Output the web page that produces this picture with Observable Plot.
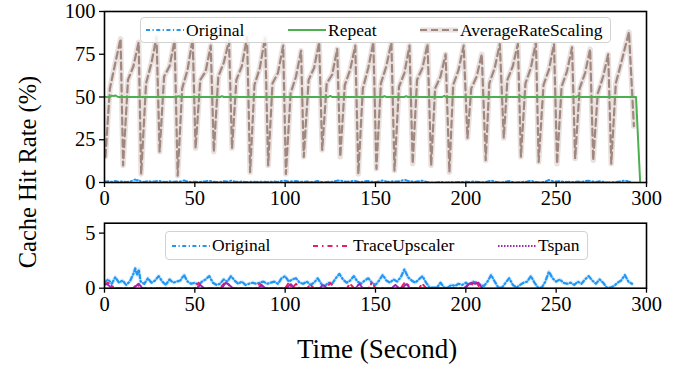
<!DOCTYPE html>
<html>
<head>
<meta charset="utf-8">
<script src="https://cdn.jsdelivr.net/npm/d3@7"></script>
<script src="https://cdn.jsdelivr.net/npm/@observablehq/plot@0.6"></script>
<style>
  html, body { margin: 0; padding: 0; background: #fff; }
  #wrap { position: relative; width: 673px; height: 366px; background: #fff; font-family: "Liberation Serif", "DejaVu Serif", serif; color: #000; overflow: hidden; }
  .abs { position: absolute; }
  .legend { position: absolute; border: 1px solid #d2d2d2; border-radius: 4px; background: rgba(255,255,255,0.85); box-sizing: border-box; }
  .item { position: absolute; top: 0; height: 100%; display: flex; align-items: center; font-size: 17.5px; white-space: nowrap; }
  .item svg { display: block; margin-right: 2px; }
</style>
</head>
<body>
<div id="wrap"></div>
<script>
// ---------------- data ----------------
const xTicks = [0, 50, 100, 150, 200, 250, 300];
const yTicksTop = [0, 25, 50, 75, 100];
const yTicksBottom = [0, 5];

// AverageRateScaling (time s, hit rate %)
const averageRateScaling = [
  [0.5,15],[3,55],[6,70],[8.9,84],
  [10.3,10],[13,60],[16,68],[18.9,82],
  [20.3,5],[23,58],[26,70],[28.8,85],
  [30.5,18],[33,62],[36,68],[38.8,83],
  [40.5,4],[43,55],[46,66],[48.8,84],
  [50.4,20],[53,60],[56,65],[58.8,80],
  [60.5,18],[63,62],[66,70],[68.9,83],
  [70.6,20],[73,60],[76,68],[78.9,85],
  [80.6,6],[83,57],[86,67],[88.9,85],
  [90.6,10],[93,58],[96,64],[98.9,80],
  [100.4,5],[103,52],[106,62],[108.8,77],
  [110.3,15],[113,60],[116,67],[118.8,82],
  [120.5,19],[123,58],[126,63],[128.8,78],
  [130.5,15],[133,57],[136,66],[138.8,80],
  [140.5,5],[143,55],[146,67],[148.8,82],
  [150.5,8],[153,58],[156,68],[158.8,82],
  [160.5,7],[163,56],[166,64],[168.8,80],
  [170.6,11],[173,60],[176,67],[178.8,81],
  [180.8,10],[183,55],[186,62],[188.8,75],
  [190.9,6],[193,57],[196,66],[198.8,80],
  [200.9,26],[203,55],[206,62],[208.8,75],
  [211,13],[213,58],[216,67],[218.8,81],
  [221,26],[223,60],[226,68],[228.8,81],
  [230.5,15],[233,58],[236,67],[238.8,82],
  [240.3,12],[243,57],[246,66],[248.8,81],
  [250.5,11],[253,56],[256,65],[258.8,79],
  [260.5,14],[263,55],[266,64],[268.8,78],
  [270.5,13],[273,52],[276,62],[278.8,75],
  [280.5,11],[283,58],[286,70],[290.3,88],
  [293,33]
];

// Repeat (time s, hit rate %)
const repeat = [
  [0,50],[3,50],[4,50.8],[5,50.6],[6,50.9],[7.5,50],[40,50],[41,50.5],[42,50],
  [64,50],[65,50.5],[66,50],[124,50],[125,50.6],[126,50],[154,50],[155,50.5],[156,50],
  [166,50],[167,50.5],[168,50],[187,50],[188,50.6],[189,50],[229,50],[230,50.5],[231,50],
  [261,50],[262,50.5],[263,50],[294.2,50],[296.5,0]
];

// Original (time s, hit rate %)
const original = [
  [0,0.5],[2,0.8],[4,0.4],[6,1.0],[8,0.5],[10,0.7],[12,0.3],[14,0.6],[16,1.3],[17,1.8],
  [18,1.2],[19,1.7],[20,0.6],[22,0.4],[24,0.9],[26,0.5],[28,0.7],[30,1.1],[32,0.6],[34,0.3],
  [36,0.8],[38,0.5],[40,0.6],[42,0.7],[44,1.2],[46,0.6],[48,0.4],[50,0.5],[52,0.3],[54,0.6],
  [56,0.8],[58,1.1],[60,0.5],[62,0.3],[64,0.4],[66,0.8],[68,0.6],[70,1.1],[72,0.7],[74,0.4],
  [76,0.6],[78,0.3],[80,0.4],[82,0.5],[84,0.4],[86,0.5],[88,0.6],[90,0.4],[92,0.5],[94,0.6],
  [96,0.4],[98,0.9],[100,1.1],[102,0.6],[104,0.8],[106,0.9],[108,0.5],[110,0.4],[112,0.6],[114,0.3],
  [116,0.5],[118,0.9],[120,0.4],[122,0.2],[124,0.5],[126,0.4],[128,0.9],[130,1.3],[132,0.8],[134,0.5],
  [136,0.7],[138,1.1],[140,0.6],[142,0.4],[144,0.7],[146,0.9],[148,0.5],[150,0.3],[152,0.7],[154,1.2],
  [156,0.7],[158,0.5],[160,0.8],[162,0.6],[164,1.0],[166,1.7],[168,1.0],[170,0.7],[172,0.5],[174,0.8],
  [176,1.1],[178,0.5],[180,0.05],[182,0.05],[184,0.05],[186,0.5],[188,0.05],[190,0.05],[192,0.3],[194,0.2],
  [196,0.4],[198,0.3],[200,0.5],[202,0.3],[204,0.6],[206,0.5],[208,0.3],[210,0.2],[212,0.6],[214,1.2],
  [216,0.6],[218,0.05],[220,0.05],[222,0.5],[224,0.9],[226,0.3],[228,0.05],[230,0.3],[232,0.5],[234,0.6],
  [236,1.1],[238,0.5],[240,0.05],[242,0.05],[244,0.6],[246,1.5],[248,0.9],[250,0.6],[252,0.8],[254,0.5],
  [256,0.4],[258,0.5],[260,0.3],[262,0.6],[264,0.4],[266,0.8],[268,1.1],[270,0.7],[272,0.4],[274,0.8],
  [276,0.5],[278,0.05],[280,0.05],[282,0.2],[284,0.5],[286,0.7],[288,1.2],[290,0.6],[292,0.4]
];

// TraceUpscaler (time s, hit rate %)
const traceUpscaler = [
  [0,0.3],[2,0.5],[4,0.2],[6,0],[16,0],[18,0.4],[20,0],[50,0],[52,0.5],[54,0],[64,0],[66,0.4],
  [68,0.5],[70,0],[84,0],[86,0.4],[88,0],[100,0],[102,0.5],[104,0],[106,0.4],[108,0],[112,0],
  [114,0.3],[116,0],[123,0],[125,0.5],[127,0],[134,0],[136,0.4],[138,0],[146,0],[148,0.5],[150,0],
  [164,0],[166,0.5],[168,0.3],[170,0],[174,0],[176,0.4],[178,0],[200,0],[202,0.5],[204,0.3],
  [206,0.5],[208,0]
];

// Tspan (time s, hit rate %)
const tspan = [
  [0,0.4],[2,0.3],[4,0],[16,0],[19,0.4],[21,0],[51,0],[53,0.3],[55,0],[65,0],[67,0.5],[69,0.3],
  [71,0],[85,0],[87,0.3],[89,0],[101,0],[103,0.4],[105,0],[119,0],[121,0.3],[123,0],[139,0],
  [141,0.4],[143,0],[159,0],[161,0.3],[163,0],[165,0],[167,0.4],[169,0],[199,0],[201,0.3],
  [203,0.5],[205,0.4],[207,0.5],[209,0]
];

// ---------------- rendering ----------------
const toObj = (arr) => arr.map(([t, v]) => ({t, v}));
const arsRows = toObj(averageRateScaling);
const repRows = toObj(repeat);
const origRows = toObj(original);
const tuRows = toObj(traceUpscaler);
const tsRows = toObj(tspan);

const C = {
  ars: "#a1887f", arsHalo: "#e9e1df", green: "#4caf50", blue: "#2196f3",
  blueHalo: "rgba(33,150,243,0.16)", red: "#e91e63", purple: "#9c27b0"
};
const DASH = { orig: "4,2.5,1.2,2.5", ars: "7,4", tu: "5,4,1.5,4", ts: "1.5,1.5" };
const SERIF = "Liberation Serif, DejaVu Serif, serif";
const TICK_FS = 20.5;

const wrap = document.getElementById("wrap");

function axes(yTicks) {
  return [
    Plot.axisX({ ticks: xTicks, tickSize: 5, tickPadding: 3, tickFormat: d => String(d), label: null, stroke: "#000", strokeWidth: 1.3, fill: "#000" }),
    Plot.axisY({ ticks: yTicks, tickSize: 5, tickPadding: 4, tickFormat: d => String(d), label: null, stroke: "#000", strokeWidth: 1.3, fill: "#000" })
  ];
}

const topPlot = Plot.plot({
  width: 673, height: 210,
  marginLeft: 104, marginRight: 27, marginTop: 11, marginBottom: 28,
  style: { background: "transparent", overflow: "visible" },
  x: { domain: [0, 300], ticks: xTicks, label: null },
  y: { domain: [0, 100], ticks: yTicksTop, label: null },
  marks: [
    ...axes(yTicksTop),
    Plot.line(arsRows, { x: "t", y: "v", stroke: C.arsHalo, strokeWidth: 5.5, clip: true }),
    Plot.line(arsRows, { x: "t", y: "v", stroke: C.ars, strokeWidth: 2.2, strokeDasharray: DASH.ars, clip: true }),
    Plot.line(origRows, { x: "t", y: "v", stroke: C.blue, strokeWidth: 1.8, strokeDasharray: DASH.orig, clip: true }),
    Plot.line(repRows, { x: "t", y: "v", stroke: C.green, strokeWidth: 2, clip: true }),
    Plot.frame({ stroke: "#000", strokeWidth: 1.6 })
  ]
});
topPlot.style.position = "absolute"; topPlot.style.left = "0px"; topPlot.style.top = "0px";
wrap.appendChild(topPlot);

const bottomPlot = Plot.plot({
  width: 673, height: 110,
  marginLeft: 104, marginRight: 27, marginTop: 12.7, marginBottom: 32.3,
  style: { background: "transparent", overflow: "visible" },
  x: { domain: [0, 300], ticks: xTicks, label: null },
  y: { domain: [0, 5.9], ticks: yTicksBottom, label: null },
  marks: [
    ...axes(yTicksBottom),
    Plot.line(origRows, { x: "t", y: "v", stroke: C.blueHalo, strokeWidth: 4, clip: true }),
    Plot.line(origRows, { x: "t", y: "v", stroke: C.blue, strokeWidth: 2.2, strokeDasharray: DASH.orig, clip: true }),
    Plot.line(tuRows, { x: "t", y: "v", stroke: C.red, strokeWidth: 2, strokeDasharray: DASH.tu, clip: true }),
    Plot.line(tsRows, { x: "t", y: "v", stroke: C.purple, strokeWidth: 2, strokeDasharray: DASH.ts, clip: true }),
    Plot.frame({ stroke: "#000", strokeWidth: 1.6 })
  ]
});
bottomPlot.style.position = "absolute"; bottomPlot.style.left = "0px"; bottomPlot.style.top = "210px";
wrap.appendChild(bottomPlot);

// serif tick labels
for (const svg of [topPlot, bottomPlot]) {
  svg.setAttribute("font-family", SERIF);
  svg.setAttribute("font-size", TICK_FS);
  svg.querySelectorAll("text, g").forEach(el => {
    if (el.hasAttribute("font-family")) el.setAttribute("font-family", SERIF);
    if (el.hasAttribute("font-size")) el.setAttribute("font-size", TICK_FS);
  });
  svg.querySelectorAll("text").forEach(el => {
    el.style.fontFamily = SERIF;
    el.style.fontSize = TICK_FS + "px";
    el.style.fontVariantNumeric = "normal";
  });
}

// axis titles
const yl = document.createElement("div");
yl.className = "abs";
yl.textContent = "Cache Hit Rate (%)";
Object.assign(yl.style, { left: "28px", top: "172px", fontSize: "24.5px", transform: "translate(-50%,-50%) rotate(-90deg)", whiteSpace: "nowrap" });
wrap.appendChild(yl);

const xl = document.createElement("div");
xl.className = "abs";
xl.textContent = "Time (Second)";
Object.assign(xl.style, { left: "377px", top: "349px", fontSize: "27px", transform: "translate(-50%,-50%)", whiteSpace: "nowrap" });
wrap.appendChild(xl);

// legends
function sample(color, dash, width, halo) {
  const w = 38, h = 12;
  let s = `<svg width="${w}" height="${h}">`;
  if (halo) s += `<line x1="0" y1="6" x2="${w}" y2="6" stroke="${halo}" stroke-width="5"/>`;
  s += `<line x1="0" y1="6" x2="${w}" y2="6" stroke="${color}" stroke-width="${width}" ${dash ? `stroke-dasharray="${dash}"` : ""}/>`;
  s += `</svg>`;
  return s;
}
function legend(box, items) {
  const d = document.createElement("div");
  d.className = "legend";
  Object.assign(d.style, { left: box.x + "px", top: box.y + "px", width: box.w + "px", height: box.h + "px" });
  for (const it of items) {
    const e = document.createElement("div");
    e.className = "item";
    e.style.left = it.x + "px";
    e.innerHTML = sample(it.color, it.dash, it.width, it.halo) + `<span>${it.label}</span>`;
    d.appendChild(e);
  }
  wrap.appendChild(d);
}
legend({ x: 140, y: 17, w: 471, h: 26 }, [
  { x: 5, color: C.blue, dash: DASH.orig, width: 2, label: "Original" },
  { x: 147, color: C.green, dash: null, width: 2, label: "Repeat" },
  { x: 279, color: C.ars, dash: DASH.ars, width: 2.2, halo: C.arsHalo, label: "AverageRateScaling" }
]);
legend({ x: 165, y: 231, w: 423, h: 29 }, [
  { x: 6, color: C.blue, dash: DASH.orig, width: 2, label: "Original" },
  { x: 147, color: C.red, dash: DASH.tu, width: 2, label: "TraceUpscaler" },
  { x: 332, color: C.purple, dash: DASH.ts, width: 2, label: "Tspan" }
]);
</script>
</body>
</html>
